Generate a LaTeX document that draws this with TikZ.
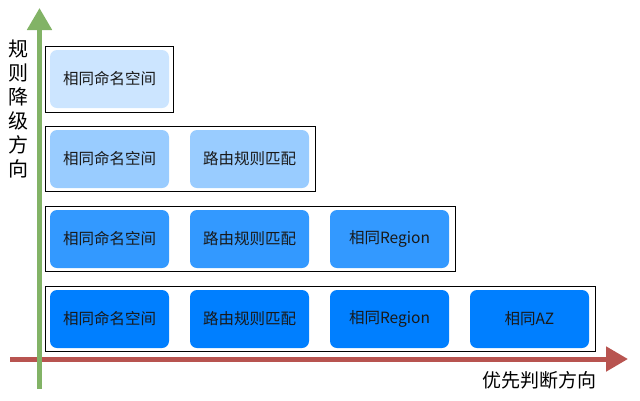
\documentclass[tikz,border=0pt]{standalone}
\usepackage{fontspec}
\setmainfont{Noto Sans CJK SC}
\usetikzlibrary{arrows.meta}
\definecolor{c1}{HTML}{CCE5FF}
\definecolor{c2}{HTML}{99CCFF}
\definecolor{c3}{HTML}{3399FF}
\definecolor{c4}{HTML}{007FFF}
\definecolor{gr}{HTML}{82B366}
\definecolor{rd}{HTML}{B85450}
\tikzset{
  rb/.style={rounded corners=7pt, minimum width=119pt, minimum height=58pt, inner sep=0pt, font=\fontsize{15.5}{18}\selectfont, text=black!90},
  frame/.style={draw=black, line width=1pt},
  axis/.style={line width=5pt, -{Triangle[length=22pt,width=24pt]}},
}
\begin{document}
\begin{tikzpicture}[x=1pt,y=-1pt]
\useasboundingbox (0,0) rectangle (640,400);
% frames
\draw[frame] (45,46) rectangle (173,112);
\draw[frame] (45,126) rectangle (315,191);
\draw[frame] (45,206) rectangle (455,271);
\draw[frame] (45,286) rectangle (595,351);
% row 1
\node[rb, fill=c1] (a1) at (109.5,79) {相同命名空间};
% row 2
\node[rb, fill=c2] (b1) at (109.5,159) {相同命名空间};
\node[rb, fill=c2] (b2) at (249.5,159) {路由规则匹配};
% row 3
\node[rb, fill=c3] (c1n) at (109.5,239) {相同命名空间};
\node[rb, fill=c3] (c2n) at (249.5,239) {路由规则匹配};
\node[rb, fill=c3] (c3n) at (389.5,239) {相同Region};
% row 4
\node[rb, fill=c4] (d1) at (109.5,319) {相同命名空间};
\node[rb, fill=c4] (d2) at (249.5,319) {路由规则匹配};
\node[rb, fill=c4] (d3) at (389.5,319) {相同Region};
\node[rb, fill=c4] (d4) at (529.5,319) {相同AZ};
% axes
\coordinate (hs) at (10,359);
\coordinate (he) at (628,359);
\coordinate (vs) at (39.5,389);
\coordinate (ve) at (39.5,8);
\draw[axis, rd] (hs) -- (he);
\draw[axis, gr] (vs) -- (ve);
% labels
\node[font=\fontsize{20}{24}\selectfont, align=center, inner sep=0pt] (yl) at (19,109) {规\\则\\降\\级\\方\\向};
\node[font=\fontsize{19}{22}\selectfont, inner sep=0pt] (xl) at (539,380) {优先判断方向};
\end{tikzpicture}
\end{document}
